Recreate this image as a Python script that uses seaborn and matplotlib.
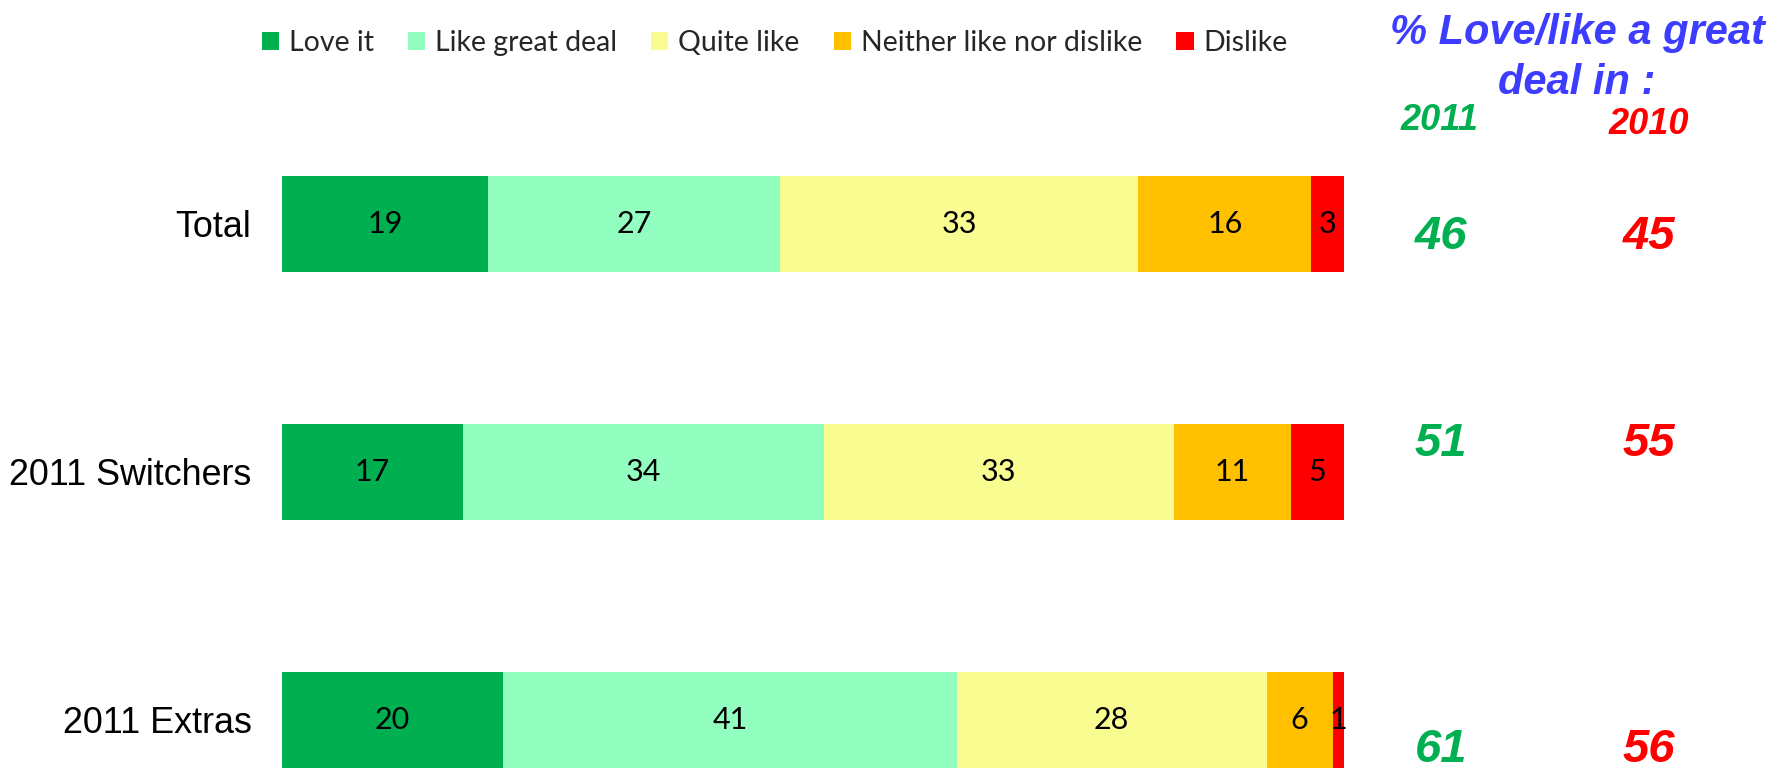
import numpy as np
import matplotlib
matplotlib.use("Agg")
import matplotlib.pyplot as plt
import seaborn as sns
from matplotlib.patches import Patch

# --- data ---
categories = ["Total", "2011 Switchers", "2011 Extras"]
series = ["Love it", "Like great deal", "Quite like", "Neither like nor dislike", "Dislike"]
love_it = [19, 17, 20]
like_great = [27, 34, 41]
quite_like = [33, 33, 28]
neither = [16, 11, 6]
dislike = [3, 5, 1]
pct_2011 = [46, 51, 61]
pct_2010 = [45, 55, 56]

colors = ["#00B050", "#92FFC0", "#F9FC91", "#FFC000", "#FF0000"]

sns.set_style("white")

values = np.array([love_it, like_great, quite_like, neither, dislike], dtype=float)
# bars are 100% stacked, so normalise each row
norm = values / values.sum(axis=0) * 100
cum = np.cumsum(norm, axis=0)

fig = plt.figure(figsize=(17.77, 7.70), dpi=100)
ax = fig.add_axes([282 / 1777, 0.0, (1344 - 282) / 1777, 620 / 770])

# draw cumulative bars from the longest to the shortest
for i in range(len(series) - 1, -1, -1):
    sns.barplot(x=cum[i], y=categories, color=colors[i], width=0.39,
                orient="h", ax=ax, linewidth=0, saturation=1)

for i in range(len(series)):
    for j in range(len(categories)):
        start = cum[i][j] - norm[i][j]
        ax.text(start + norm[i][j] / 2, j, str(int(values[i][j])),
                ha="center", va="center", fontsize=22, family="Lato", color="black")

ax.set_xlim(0, 100)
ax.set_ylim(2.2016, -0.298)
ax.set_xlabel("")
ax.set_ylabel("")
ax.set_xticks([])
ax.tick_params(axis="y", length=0, pad=22)
for lab in ax.get_yticklabels():
    lab.set_fontsize(25.8)
    lab.set_family("Liberation Sans")
    lab.set_color("black")
sns.despine(ax=ax, left=True, bottom=True)

# legend
handles = [Patch(facecolor=c, edgecolor="none", label=s) for c, s in zip(colors, series)]
fig.legend(handles=handles, loc="center", bbox_to_anchor=(0.436, 0.944), ncol=5,
           frameon=False, handlelength=0.6, handleheight=0.6, handletextpad=0.35,
           columnspacing=1.2, prop={"family": "Lato", "size": 20.5})

# right-hand side summary
fig.text(1577 / 1777, 1 - 58 / 770, "% Love/like a great\ndeal in :", ha="center", va="center",
         fontsize=30, fontweight="bold", style="italic", color="#3D3DFF",
         family="Liberation Sans", linespacing=1.3)
fig.text(1439 / 1777, 1 - 120 / 770, "2011", ha="center", va="center", fontsize=26,
         fontweight="bold", style="italic", color="#00B050", family="Liberation Sans")
fig.text(1649 / 1777, 1 - 125 / 770, "2010", ha="center", va="center", fontsize=26,
         fontweight="bold", style="italic", color="#FF0000", family="Liberation Sans")

num_y = [237, 444, 750]
for j in range(len(categories)):
    fig.text(1441 / 1777, 1 - num_y[j] / 770, str(pct_2011[j]), ha="center", va="center",
             fontsize=34, fontweight="bold", style="italic", color="#00B050",
             family="Liberation Sans")
    fig.text(1649 / 1777, 1 - num_y[j] / 770, str(pct_2010[j]), ha="center", va="center",
             fontsize=34, fontweight="bold", style="italic", color="#FF0000",
             family="Liberation Sans")

fig.savefig("out.png", dpi=100)
